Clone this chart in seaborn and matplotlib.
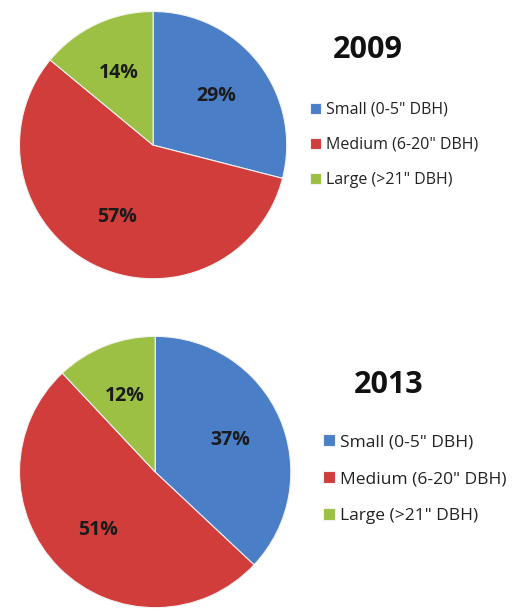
from matplotlib import pyplot as plt
import numpy as np
import pandas as pd
import seaborn as sns

categories = ['Small (0-5" DBH)', 'Medium (6-20" DBH)', 'Large (>21" DBH)']
years = ['2009', '2013']
share_2009 = [29, 57, 14]
share_2013 = [37, 51, 12]

data = pd.DataFrame({'2009': share_2009, '2013': share_2013}, index=categories)

sns.set_theme(style="white")
plt.rcParams['font.family'] = ['Open Sans', 'DejaVu Sans']
colors = sns.color_palette(['#4a7ec6', '#d03d3b', '#9cc043'])

fig = plt.figure(figsize=(5.19, 6.13), dpi=100)
fig.patch.set_facecolor('white')

# axes boxes in figure fractions, one per year
boxes = {'2009': [0.035, 0.543, 0.520, 0.4405],
         '2013': [0.035, 0.0065, 0.528, 0.447]}
title_pos = {'2009': (0.708, 0.919), '2013': (0.748, 0.372)}
legend_pos = {'2009': (0.597, 0.834), '2013': (0.622, 0.292)}
legend_size = {'2009': 11.5, '2013': 12.5}

for year in years:
    ax = fig.add_axes(boxes[year])
    wedges, texts, autotexts = ax.pie(
        data[year], colors=colors, startangle=90, counterclock=False,
        autopct=lambda p: '%d%%' % round(p), pctdistance=0.6,
        wedgeprops=dict(edgecolor='#f2f2f2', linewidth=0.8),
        textprops=dict(fontsize=14, fontweight='bold', color='#1b1b1b'))
    ax.set_xlim(-1.01, 1.01)
    ax.set_ylim(-1.01, 1.01)
    ax.set_aspect('equal')
    fig.text(*title_pos[year], year, fontsize=22, fontweight='bold',
             ha='center', va='center', color='#111111')
    fig.legend(wedges, categories, loc='upper left', bbox_to_anchor=legend_pos[year],
               frameon=False, fontsize=legend_size[year], handlelength=0.7,
               handleheight=0.7, handletextpad=0.3, labelspacing=1.2,
               borderaxespad=0, borderpad=0, labelcolor='#222222')

plt.savefig('out.png', dpi=100)
